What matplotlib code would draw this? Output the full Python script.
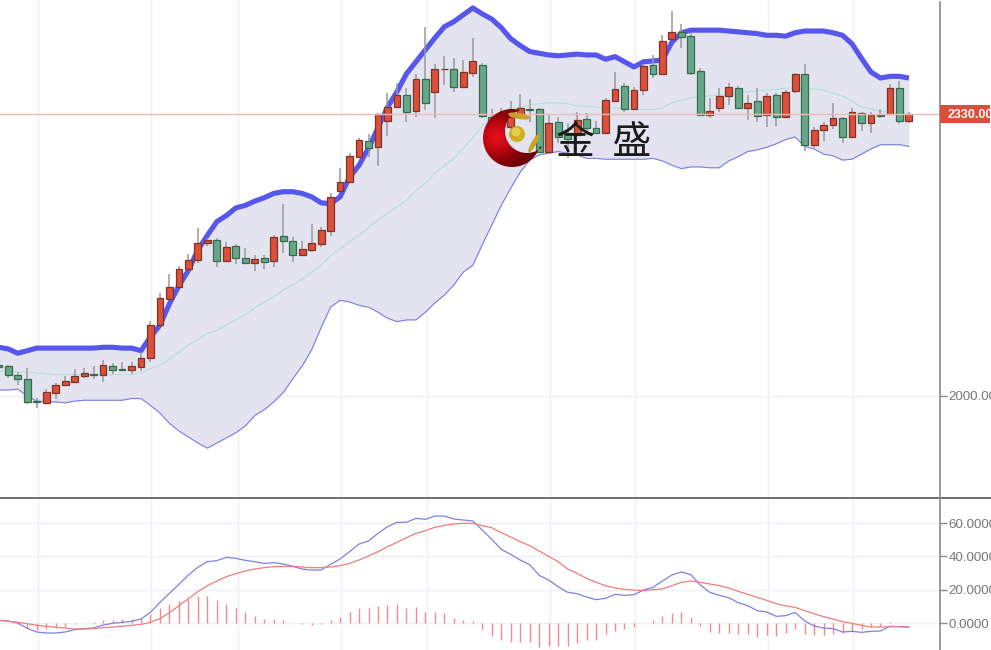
import numpy as np
import matplotlib
matplotlib.use('Agg')
import matplotlib.pyplot as plt
from matplotlib.lines import Line2D
from matplotlib.patches import Circle, Ellipse, Polygon, Rectangle
from matplotlib.colors import LinearSegmentedColormap

plt.rcParams['font.family'] = ['Liberation Sans', 'DejaVu Sans']

# K-line data
opens = [2036,2035,2024,2020,1994,1992,2004,2013,2016,2023,
         2026,2025,2035,2031,2030,2034,2044,2083,2114,2128,
         2149,2159,2179,2183,2158,2175,2161,2156,2161,2158,
         2187,2181,2165,2171,2178,2193,2240,2250,2280,2298,
         2291,2322,2338,2352,2333,2371,2356,2382,2383,2362,
         2378,2387,2326,2328,2315,2326,2336,2336,2286,2321,
         2308,2305,2324,2314,2308,2345,2363,2336,2358,2387,
         2377,2418,2426,2421,2380,2329,2337,2351,2360,2337,
         2345,2329,2352,2326,2357,2377,2294,2311,2317,2325,
         2303,2331,2319,2329,2330,2360,2322]
closes = [2034,2025,2020,1993,1993,2005,2013,2018,2023,2027,
          2025,2036,2030,2030,2035,2044,2083,2115,2128,2149,
          2159,2179,2183,2158,2174,2161,2156,2160,2157,2186,
          2181,2165,2172,2179,2194,2233,2250,2281,2300,2290,
          2330,2338,2352,2332,2371,2343,2383,2383,2362,2379,
          2392,2328,2315,2316,2326,2337,2335,2286,2319,2303,
          2301,2323,2314,2308,2346,2359,2336,2358,2386,2377,
          2415,2426,2420,2378,2329,2333,2351,2362,2337,2343,
          2328,2351,2326,2356,2377,2294,2311,2317,2325,2303,
          2332,2319,2329,2328,2360,2322,2330]
highs = [2039,2036,2028,2033,1998,2008,2015,2023,2032,2033,
         2035,2042,2039,2040,2040,2051,2088,2121,2143,2152,
         2166,2197,2185,2185,2180,2178,2173,2165,2165,2188,
         2225,2186,2181,2201,2198,2237,2267,2284,2302,2307,
         2331,2354,2366,2360,2377,2432,2388,2398,2395,2393,
         2419,2390,2336,2337,2345,2353,2348,2337,2330,2326,
         2319,2332,2331,2322,2349,2379,2366,2362,2388,2399,
         2422,2450,2435,2425,2384,2349,2360,2366,2363,2352,
         2360,2354,2354,2358,2378,2388,2315,2321,2343,2326,
         2337,2332,2332,2336,2365,2369,2332]
lows = [2032,2021,2013,1991,1986,1992,1997,2013,2016,2021,
        2020,2016,2026,2029,2026,2029,2040,2082,2114,2128,
        2149,2156,2175,2151,2157,2154,2156,2146,2149,2151,
        2167,2157,2165,2168,2174,2187,2240,2250,2280,2280,
        2269,2304,2338,2321,2326,2335,2325,2364,2356,2362,
        2373,2325,2311,2314,2311,2326,2321,2285,2285,2296,
        2278,2305,2305,2308,2308,2345,2332,2336,2352,2372,
        2376,2418,2407,2376,2329,2325,2332,2340,2337,2323,
        2321,2315,2316,2326,2354,2287,2290,2298,2312,2296,
        2303,2310,2308,2325,2330,2318,2319]

# Bollinger bands
upper = [2057,2055,2050,2053,2056,2056,2056,2056,2056,2056,
         2056,2057,2057,2056,2056,2053,2069,2083,2108,2129,
         2147,2171,2188,2204,2211,2220,2223,2228,2232,2237,
         2239,2239,2237,2233,2226,2225,2233,2256,2270,2290,
         2314,2338,2356,2377,2391,2405,2419,2432,2438,2446,
         2454,2447,2441,2431,2418,2410,2403,2401,2399,2398,
         2399,2400,2399,2399,2394,2397,2391,2385,2391,2392,
         2393,2414,2425,2428,2428,2428,2428,2427,2426,2425,
         2424,2422,2422,2421,2425,2427,2427,2427,2425,2422,
         2412,2395,2379,2372,2374,2374,2372]
lower = [2007,2007,2008,2000,1994,1993,1993,1992,1994,1995,
         1995,1995,1995,1995,1997,1997,1989,1980,1968,1959,
         1952,1945,1939,1945,1951,1957,1965,1977,1984,1993,
         2004,2020,2035,2054,2080,2104,2112,2110,2106,2104,
         2098,2091,2087,2089,2089,2098,2109,2118,2130,2145,
         2153,2177,2200,2223,2243,2262,2276,2282,2284,2286,
         2284,2282,2278,2278,2277,2277,2277,2277,2277,2278,
         2275,2270,2266,2268,2268,2267,2267,2275,2280,2286,
         2288,2291,2295,2300,2303,2292,2289,2283,2281,2276,
         2277,2283,2289,2294,2294,2294,2292]
middle = [2029,2029,2028,2028,2027,2026,2025,2025,2025,2025,
          2025,2025,2025,2025,2025,2027,2032,2036,2043,2051,
          2060,2066,2073,2077,2083,2089,2095,2103,2110,2116,
          2124,2130,2137,2145,2153,2164,2172,2181,2188,2197,
          2206,2214,2221,2229,2240,2249,2260,2270,2278,2290,
          2302,2316,2325,2331,2337,2338,2340,2342,2343,2343,
          2342,2339,2339,2338,2337,2337,2336,2335,2335,2335,
          2337,2343,2346,2349,2350,2351,2352,2353,2355,2356,
          2357,2358,2359,2360,2360,2360,2359,2358,2354,2351,
          2345,2338,2336,2333,2332,2331,2329]

# MACD panel
dif = [1.6,1.2,0,-3.2,-5.4,-6,-6,-5.4,-4,-3.4,
       -3,-1.2,-0.2,0.4,1,2.4,6.4,12.4,17.8,23.2,
       28.8,33.4,36.8,37.4,39.4,38.8,37.6,36.8,35.8,36.2,
       35.4,34,32.4,31.8,31.8,35.2,38.4,42.8,47.4,49.2,
       53.8,57.8,60.4,60.4,62.8,62.2,64.2,64.2,62.4,61.8,
       61.2,55.8,50.2,44.2,41.2,37.8,35,28.6,25.8,21.8,
       18.4,17.6,15.6,14,14.8,17.2,16.6,17,19.8,21.4,
       25.2,28.8,30.6,29,22.8,18.4,16.6,15.2,12.2,10.4,
       7.4,6.6,4,4.4,6.4,1.2,-1.8,-3,-3.4,-5.4,
       -5,-5.6,-5,-4.8,-2,-2.2,-2.4]
dea = [1.6,1,0.4,-0.4,-1.4,-2,-2.6,-3,-3.6,-3.6,
       -3.4,-2.8,-2.4,-2,-1.4,-0.8,0.4,2.6,6.2,10.4,
       14.6,18.8,22.4,25.2,27.8,29.6,31.2,32.4,33.2,33.8,
       34,34,33.6,33.2,33.2,33.6,34.4,35.8,37.8,40.2,
       42.8,45.8,48.4,51.2,53.8,55.4,57.4,58.6,59.4,59.8,
       59.8,58.4,57.2,54.2,51.6,48.8,46.4,43.2,40,36.8,
       32.4,29.8,26.8,24.4,22.4,21,20.2,19.8,19.4,20,
       20.4,22.4,24.4,25.2,24.4,23.4,22.4,21,19,17.2,
       15.4,13.6,11.6,10.2,9.4,7.4,5.6,3.8,2.4,0.8,
       -0.2,-1.4,-2.4,-2.4,-2.2,-2.2,-2.4]
hist = [0,0,-0.8,-2.8,-4.2,-3.8,-3.2,-2.4,-0.4,0,
        0.4,1.6,1.6,2.2,2.2,3.2,5.2,9.2,11.4,13.4,
        14.4,16.2,16,13.6,11.6,9,6.8,4.2,2.4,2.4,
        1.6,0,-0.6,-1.2,-0.6,1.6,3.6,6.8,9,9,
        10.4,11,11.6,9,9.6,6.8,6.8,6,2.8,1.6,
        1,-3.8,-7.6,-10.4,-11.2,-11.2,-11.2,-14.4,-13.6,-13.6,
        -13.6,-12,-10.4,-10,-6.8,-4.6,-3.8,-2.2,0,1.6,
        4,5.8,6.6,3.4,-2,-5.2,-5.8,-5.8,-6.8,-6.8,
        -8.4,-7.2,-7.6,-5.8,-3.4,-6.4,-7,-7,-6.4,-5.8,
        -4.8,-3.6,-2.6,-2,0.4,0,0]

last_price = 2330
grid_days = [4.1, 16.1, 25.2, 36.1, 45.2, 58.1, 67.1, 81.1, 90.1]
price_ticks = [2000]
macd_ticks = [0, 20, 40, 60]

W, H = 991, 650
fig = plt.figure(figsize=(W / 100, H / 100), dpi=100)
ax1 = fig.add_axes([0, 1 - 497 / H, 940 / W, 497 / H])
ax2 = fig.add_axes([0, 0, 940 / W, 152 / H])

x = np.arange(len(opens))
opens = np.array(opens)
closes = np.array(closes)
up = closes >= opens
body_col = np.where(up, '#dc4f38', '#66a787')
edge_col = np.where(up, '#7d3428', '#37694f')

# bollinger band under the candles
ax1.fill_between(x, lower, upper, color='#e3e4f0', lw=0, zorder=1)
ax1.plot(x, middle, color='#b4e0d8', lw=0.8, zorder=2)
ax1.plot(x, lower, color='#7c7ce2', lw=0.8, zorder=2)
ax1.plot(x, upper, color='#5757ee', lw=3.7, zorder=2, solid_capstyle='butt')

ax1.vlines(x, lows, highs, color='#9a9a9a', lw=1.1, zorder=3)
ax1.bar(x, np.maximum(np.abs(closes - opens), 1), bottom=np.minimum(opens, closes), width=0.72,
        color=body_col, edgecolor=edge_col, lw=0.9, zorder=4)
ax1.axhline(last_price, color='#eebcb0', lw=1.0, zorder=5)

ax1.set_xlim(0.127, 99.28)
ax1.set_ylim(1881.8, 2463.3)
ax1.set_yticks(price_ticks)
ax1.set_yticklabels(['%.2f' % v for v in price_ticks])

# macd
ax2.vlines(x, 0, hist, color='#f08a92', lw=1.0, zorder=2)
ax2.plot(x, dif, color='#8080e0', lw=0.9, zorder=3)
ax2.plot(x, dea, color='#ee7f7c', lw=0.9, zorder=3)
ax2.set_xlim(0.127, 99.28)
ax2.set_ylim(-16.2, 75)
ax2.set_yticks(macd_ticks)
ax2.set_yticklabels(['0.0000', '20.0000', '40.0000', '60.0000'])

for ax in (ax1, ax2):
    ax.yaxis.tick_right()
    ax.set_xticks(grid_days)
    ax.set_xticklabels([])
    ax.tick_params(axis='x', length=0)
    ax.tick_params(axis='y', length=5, width=1, color='#888888', labelcolor='#777777',
                   labelsize=9.6, pad=1)
    ax.grid(True, color='#eef0f5', lw=1.0)
    ax.set_axisbelow(True)
    for s in ax.spines.values():
        s.set_visible(False)

fig.add_artist(Line2D([0, 1], [1 - 497.5 / H] * 2, color='#555555', lw=1.2))
fig.add_artist(Line2D([940 / W] * 2, [0, 1 - 2 / H], color='#808080', lw=1.1))

# overlay in pixels for the price tag and the watermark
ov = fig.add_axes([0, 0, 1, 1], zorder=10)
ov.set_xlim(0, W)
ov.set_ylim(H, 0)
ov.axis('off')
ov.patch.set_alpha(0)

ov.add_patch(Rectangle((940, 105), 50, 18, color='#d9503a', lw=0))
ov.text(948, 114.5, '2330.00', color='white', fontsize=9, fontweight='bold', va='center', ha='left')

# crescent
a_out = np.radians(np.linspace(-74, -343, 80))
a_in = np.radians(np.linspace(47, 252, 60))
outer = np.c_[512 + 29 * np.cos(a_out), 138 + 29 * np.sin(a_out)]
inner = np.c_[527 + 22 * np.cos(a_in), 131 + 22 * np.sin(a_in)]
crescent = Polygon(np.r_[outer, inner], closed=True, transform=ov.transData, fc='none', ec='none')
ov.add_patch(crescent)
gx, gy = np.meshgrid(np.linspace(480, 545, 90), np.linspace(107, 170, 90))
dist = np.hypot(gx - 497, gy - 137)
cmap = LinearSegmentedColormap.from_list('logo', ['#e8101c', '#c40812', '#8c0008', '#6e0006'])
im = ov.imshow(dist, extent=(480, 545, 170, 107), cmap=cmap, vmin=0, vmax=36, aspect='auto', zorder=11)
im.set_clip_path(crescent)
ov.set_xlim(0, W)
ov.set_ylim(H, 0)

ov.add_patch(Circle((517, 134), 8, fc='#cfae22', ec='none', zorder=12))
ov.add_patch(Circle((516, 132), 4.5, fc='#e6cc48', ec='none', zorder=12))
ov.add_patch(Ellipse((519, 116), 22, 6, angle=10, fc='#c9a227', ec='none', zorder=12))
ov.add_patch(Ellipse((534, 143), 22, 5, angle=-60, fc='#c9a227', ec='none', zorder=12))

ov.text(556, 143, '金  盛', family=['Noto Sans CJK SC', 'DejaVu Sans'], fontsize=28, color='#1a1a1a',
        va='center', ha='left', zorder=13)

fig.savefig('out.png', dpi=100)
